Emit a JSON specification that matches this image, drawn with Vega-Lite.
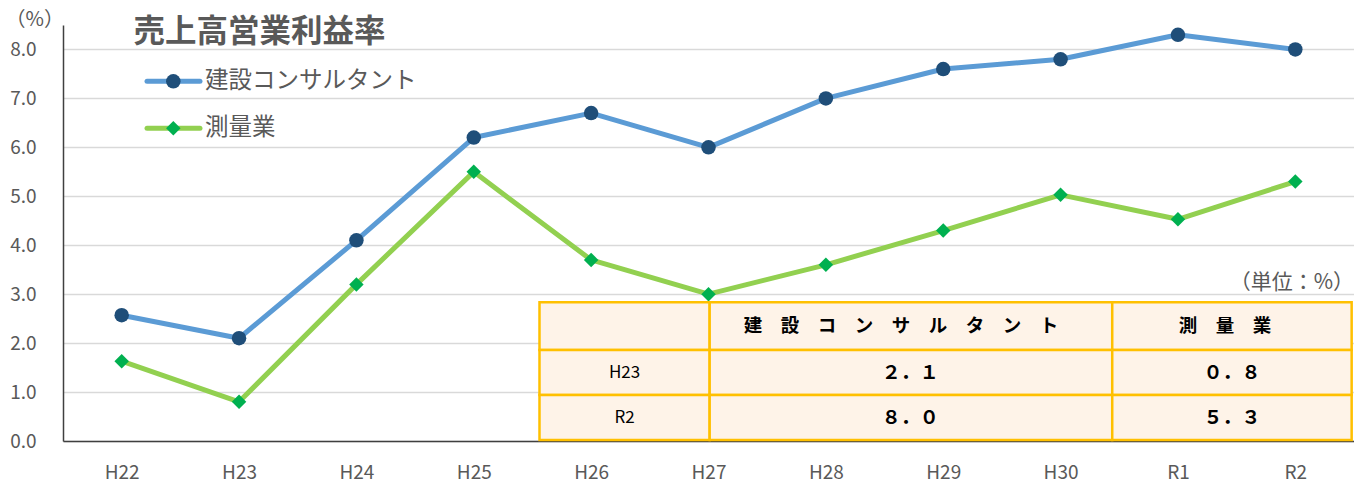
{
  "$schema": "https://vega.github.io/schema/vega-lite/v6.json",
  "width": 1291,
  "height": 416,
  "autosize": {"type": "none"},
  "padding": {"left": 63, "top": 25, "right": 0, "bottom": 41},
  "background": "white",
  "config": {
    "view": {"stroke": null},
    "font": "Noto Sans CJK JP",
    "text": {"font": "Noto Sans CJK JP"}
  },
  "datasets": {
    "main": [
      {"year": "H22", "series": "建設コンサルタント", "value": 2.57},
      {"year": "H23", "series": "建設コンサルタント", "value": 2.1},
      {"year": "H24", "series": "建設コンサルタント", "value": 4.1},
      {"year": "H25", "series": "建設コンサルタント", "value": 6.2},
      {"year": "H26", "series": "建設コンサルタント", "value": 6.7},
      {"year": "H27", "series": "建設コンサルタント", "value": 6.0},
      {"year": "H28", "series": "建設コンサルタント", "value": 7.0},
      {"year": "H29", "series": "建設コンサルタント", "value": 7.6},
      {"year": "H30", "series": "建設コンサルタント", "value": 7.8},
      {"year": "R1", "series": "建設コンサルタント", "value": 8.3},
      {"year": "R2", "series": "建設コンサルタント", "value": 8.0},
      {"year": "H22", "series": "測量業", "value": 1.63},
      {"year": "H23", "series": "測量業", "value": 0.8},
      {"year": "H24", "series": "測量業", "value": 3.2},
      {"year": "H25", "series": "測量業", "value": 5.5},
      {"year": "H26", "series": "測量業", "value": 3.7},
      {"year": "H27", "series": "測量業", "value": 3.0},
      {"year": "H28", "series": "測量業", "value": 3.6},
      {"year": "H29", "series": "測量業", "value": 4.3},
      {"year": "H30", "series": "測量業", "value": 5.03},
      {"year": "R1", "series": "測量業", "value": 4.53},
      {"year": "R2", "series": "測量業", "value": 5.3}
    ],
    "cells": [
      {"u": 4.06, "u2": 5.51, "v": 2.837, "v2": 1.857},
      {"u": 5.51, "u2": 8.94, "v": 2.837, "v2": 1.857},
      {"u": 8.94, "u2": 10.98, "v": 2.837, "v2": 1.857},
      {"u": 4.06, "u2": 5.51, "v": 1.857, "v2": 0.939},
      {"u": 5.51, "u2": 8.94, "v": 1.857, "v2": 0.939},
      {"u": 8.94, "u2": 10.98, "v": 1.857, "v2": 0.939},
      {"u": 4.06, "u2": 5.51, "v": 0.939, "v2": 0.02},
      {"u": 5.51, "u2": 8.94, "v": 0.939, "v2": 0.02},
      {"u": 8.94, "u2": 10.98, "v": 0.939, "v2": 0.02}
    ],
    "header": [
      {"u": 7.14, "v": 2.347, "label": "建　設　コ　ン　サ　ル　タ　ン　ト"},
      {"u": 9.9, "v": 2.347, "label": "測　量　業"}
    ],
    "rowlabels": [
      {"u": 4.785, "v": 1.398, "label": "H23"},
      {"u": 4.785, "v": 0.479, "label": "R2"}
    ],
    "values": [
      {"u": 7.22, "v": 1.398, "label": "２．１"},
      {"u": 9.96, "v": 1.398, "label": "０．８"},
      {"u": 7.22, "v": 0.479, "label": "８．０"},
      {"u": 9.96, "v": 0.479, "label": "５．３"}
    ],
    "legline": [
      {"series": "建設コンサルタント", "u": 0.716, "v": 7.35},
      {"series": "建設コンサルタント", "u": 1.167, "v": 7.35},
      {"series": "測量業", "u": 0.716, "v": 6.39},
      {"series": "測量業", "u": 1.167, "v": 6.39}
    ],
    "legpt": [
      {"series": "建設コンサルタント", "u": 0.94, "v": 7.35},
      {"series": "測量業", "u": 0.94, "v": 6.39}
    ],
    "leglabel": [
      {"label": "建設コンサルタント", "u": 1.21, "v": 7.35},
      {"label": "測量業", "u": 1.21, "v": 6.39}
    ],
    "title": [{"label": "売上高営業利益率", "u": 0.6, "v": 8.33}],
    "unit": [{"label": "（単位：%）", "u": 11.0, "v": 3.22}],
    "ytitle": [{"label": "（%）", "u": -0.49, "v": 8.6}]
  },
  "resolve": {
    "scale": {"x": "independent", "y": "independent"},
    "axis": {"x": "independent", "y": "independent"}
  },
  "layer": [
    {
      "data": {"name": "main"},
      "mark": {"type": "line", "strokeWidth": 5, "strokeCap": "round", "strokeJoin": "round"},
      "encoding": {
        "x": {
          "field": "year", "type": "ordinal", "sort": null,
          "scale": {"type": "point", "padding": 0.5},
          "axis": {
            "title": null, "labelAngle": 0, "ticks": false, "labelPadding": 22,
            "labelFontSize": 19, "labelColor": "#595959", "labelFont": "Noto Sans CJK JP",
            "domainColor": "#404040", "domainWidth": 1.5, "grid": false
          }
        },
        "y": {
          "field": "value", "type": "quantitative",
          "scale": {"domain": [0, 8.5], "nice": false, "zero": true},
          "axis": {
            "values": [0, 1, 2, 3, 4, 5, 6, 7, 8], "format": ".1f",
            "title": null,
            "ticks": false, "labelPadding": 27, "labelFontSize": 19, "labelColor": "#595959",
            "labelFont": "Noto Sans CJK JP",
            "domainColor": "#404040", "domainWidth": 1.5,
            "grid": true, "gridColor": "#D9D9D9", "gridWidth": 1.5
          }
        },
        "color": {
          "field": "series", "type": "nominal",
          "scale": {"domain": ["建設コンサルタント", "測量業"], "range": ["#5B9BD5", "#92D050"]},
          "legend": null
        }
      }
    },
    {
      "data": {"name": "main"},
      "mark": {"type": "point", "filled": true, "opacity": 1, "size": 210},
      "encoding": {
        "x": {"field": "year", "type": "ordinal", "sort": null, "scale": {"type": "point", "padding": 0.5}, "axis": null},
        "y": {"field": "value", "type": "quantitative", "scale": {"domain": [0, 8.5], "nice": false}, "axis": null},
        "fill": {
          "field": "series", "type": "nominal",
          "scale": {"domain": ["建設コンサルタント", "測量業"], "range": ["#1F4E79", "#00B050"]},
          "legend": null
        },
        "shape": {
          "field": "series", "type": "nominal",
          "scale": {"domain": ["建設コンサルタント", "測量業"], "range": ["circle", "diamond"]},
          "legend": null
        }
      }
    },
    {
      "data": {"name": "cells"},
      "mark": {"type": "rect", "fill": "#FEF3E8", "stroke": "#FFC000", "strokeWidth": 2.5},
      "encoding": {
        "x": {"field": "u", "type": "quantitative", "scale": {"domain": [0, 11], "nice": false, "zero": false}, "axis": null},
        "x2": {"field": "u2"},
        "y": {"field": "v", "type": "quantitative", "scale": {"domain": [0, 8.5], "nice": false}, "axis": null},
        "y2": {"field": "v2"}
      }
    },
    {
      "data": {"name": "header"},
      "mark": {"type": "text", "fontSize": 18.5, "fontWeight": "bold", "color": "#000000", "align": "center", "baseline": "middle"},
      "encoding": {
        "x": {"field": "u", "type": "quantitative", "scale": {"domain": [0, 11], "nice": false, "zero": false}, "axis": null},
        "y": {"field": "v", "type": "quantitative", "scale": {"domain": [0, 8.5], "nice": false}, "axis": null},
        "text": {"field": "label"}
      }
    },
    {
      "data": {"name": "rowlabels"},
      "mark": {"type": "text", "fontSize": 17, "color": "#000000", "align": "center", "baseline": "middle"},
      "encoding": {
        "x": {"field": "u", "type": "quantitative", "scale": {"domain": [0, 11], "nice": false, "zero": false}, "axis": null},
        "y": {"field": "v", "type": "quantitative", "scale": {"domain": [0, 8.5], "nice": false}, "axis": null},
        "text": {"field": "label"}
      }
    },
    {
      "data": {"name": "values"},
      "mark": {"type": "text", "fontSize": 19, "fontWeight": "bold", "color": "#000000", "align": "center", "baseline": "middle"},
      "encoding": {
        "x": {"field": "u", "type": "quantitative", "scale": {"domain": [0, 11], "nice": false, "zero": false}, "axis": null},
        "y": {"field": "v", "type": "quantitative", "scale": {"domain": [0, 8.5], "nice": false}, "axis": null},
        "text": {"field": "label"}
      }
    },
    {
      "data": {"name": "legline"},
      "mark": {"type": "line", "strokeWidth": 5, "strokeCap": "round"},
      "encoding": {
        "x": {"field": "u", "type": "quantitative", "scale": {"domain": [0, 11], "nice": false, "zero": false}, "axis": null},
        "y": {"field": "v", "type": "quantitative", "scale": {"domain": [0, 8.5], "nice": false}, "axis": null},
        "color": {
          "field": "series", "type": "nominal",
          "scale": {"domain": ["建設コンサルタント", "測量業"], "range": ["#5B9BD5", "#92D050"]},
          "legend": null
        }
      }
    },
    {
      "data": {"name": "legpt"},
      "mark": {"type": "point", "filled": true, "opacity": 1, "size": 210},
      "encoding": {
        "x": {"field": "u", "type": "quantitative", "scale": {"domain": [0, 11], "nice": false, "zero": false}, "axis": null},
        "y": {"field": "v", "type": "quantitative", "scale": {"domain": [0, 8.5], "nice": false}, "axis": null},
        "fill": {
          "field": "series", "type": "nominal",
          "scale": {"domain": ["建設コンサルタント", "測量業"], "range": ["#1F4E79", "#00B050"]},
          "legend": null
        },
        "shape": {
          "field": "series", "type": "nominal",
          "scale": {"domain": ["建設コンサルタント", "測量業"], "range": ["circle", "diamond"]},
          "legend": null
        }
      }
    },
    {
      "data": {"name": "leglabel"},
      "mark": {"type": "text", "fontSize": 23.5, "color": "#595959", "align": "left", "baseline": "middle"},
      "encoding": {
        "x": {"field": "u", "type": "quantitative", "scale": {"domain": [0, 11], "nice": false, "zero": false}, "axis": null},
        "y": {"field": "v", "type": "quantitative", "scale": {"domain": [0, 8.5], "nice": false}, "axis": null},
        "text": {"field": "label"}
      }
    },
    {
      "data": {"name": "title"},
      "mark": {"type": "text", "fontSize": 31.5, "fontWeight": "bold", "color": "#595959", "align": "left", "baseline": "middle"},
      "encoding": {
        "x": {"field": "u", "type": "quantitative", "scale": {"domain": [0, 11], "nice": false, "zero": false}, "axis": null},
        "y": {"field": "v", "type": "quantitative", "scale": {"domain": [0, 8.5], "nice": false}, "axis": null},
        "text": {"field": "label"}
      }
    },
    {
      "data": {"name": "unit"},
      "mark": {"type": "text", "fontSize": 21, "color": "#595959", "align": "right", "baseline": "middle"},
      "encoding": {
        "x": {"field": "u", "type": "quantitative", "scale": {"domain": [0, 11], "nice": false, "zero": false}, "axis": null},
        "y": {"field": "v", "type": "quantitative", "scale": {"domain": [0, 8.5], "nice": false}, "axis": null},
        "text": {"field": "label"}
      }
    },
    {
      "data": {"name": "ytitle"},
      "mark": {"type": "text", "fontSize": 20, "color": "#595959", "align": "left", "baseline": "middle"},
      "encoding": {
        "x": {"field": "u", "type": "quantitative", "scale": {"domain": [0, 11], "nice": false, "zero": false}, "axis": null},
        "y": {"field": "v", "type": "quantitative", "scale": {"domain": [0, 8.5], "nice": false}, "axis": null},
        "text": {"field": "label"}
      }
    }
  ]
}
